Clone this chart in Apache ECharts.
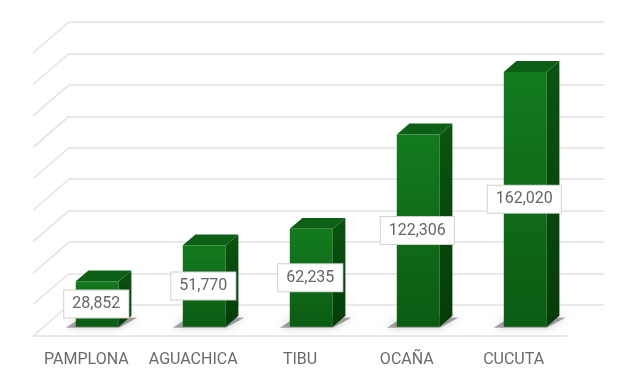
<!DOCTYPE html>
<html>
<head>
<meta charset="utf-8">
<script src="https://cdn.jsdelivr.net/npm/echarts@6/dist/echarts.min.js"></script>
<style>
html,body{margin:0;padding:0;background:#fff;}
#chart{width:640px;height:383px;}
</style>
</head>
<body>
<div id="chart"></div>
<script>
const categories = ['PAMPLONA', 'AGUACHICA', 'TIBU', 'OCAÑA', 'CUCUTA'];
const values = [28852, 51770, 62235, 122306, 162020];
const yTicks = [0, 20000, 40000, 60000, 80000, 100000, 120000, 140000, 160000, 180000];
const yMin = 0, yMax = 180000, yStep = 20000;

const DX = -36, DY = 31;      // depth vector back wall -> front edge (px)
const FF = 0.70, FB = 0.35;   // bar front / back depth fractions
const BW = 43;                // bar front width
const GRID_COLOR = '#e2e2e2';

const chart = echarts.init(document.getElementById('chart'), null, {renderer: 'canvas'});

function fmt(v) { return v.toLocaleString('en-US'); }

const option = {
  animation: false,
  backgroundColor: '#ffffff',
  grid: [
    {left: 69, right: 36, top: 22, bottom: 78},
    {left: 33, right: 73, top: 53, bottom: 47}
  ],
  xAxis: [
    {type: 'category', gridIndex: 0, data: categories, show: false},
    {type: 'category', gridIndex: 1, data: categories,
     axisLine: {show: true, lineStyle: {color: GRID_COLOR, width: 1.5}},
     axisTick: {show: false},
     axisLabel: {interval: 0, hideOverlap: false, color: '#6a6a6a', fontFamily: 'Roboto', fontSize: 16, margin: 16}}
  ],
  yAxis: [
    {type: 'value', gridIndex: 0, min: yMin, max: yMax, interval: yStep,
     axisLine: {show: false}, axisTick: {show: false}, axisLabel: {show: false},
     splitLine: {show: true, lineStyle: {color: GRID_COLOR, width: 1.5}}},
    {type: 'value', gridIndex: 1, min: yMin, max: yMax, interval: yStep, show: false,
     splitLine: {show: false}}
  ],
  series: [
    {
      type: 'custom', xAxisIndex: 0, yAxisIndex: 0, clip: false, silent: true, z: 1,
      data: yTicks.map(v => [0, v]),
      renderItem: function (params, api) {
        const y = api.coord([0, api.value(1)])[1];
        const x0 = params.coordSys.x;
        return {
          type: 'line',
          shape: {x1: x0, y1: y, x2: x0 + DX, y2: y + DY},
          style: {stroke: GRID_COLOR, lineWidth: 1.5}
        };
      }
    },
    {
      type: 'custom', xAxisIndex: 0, yAxisIndex: 0, clip: false, z: 3,
      data: values.map((v, i) => [i, v]),
      renderItem: function (params, api) {
        const i = api.value(0), v = api.value(1);
        const p = api.coord([i, v]);
        const p0 = api.coord([i, 0]);
        const cx = p[0] + DX * FF;
        const top = p[1] + DY * FF;
        const bot = p0[1] + DY * FF;
        const ox = DX * (FB - FF), oy = DY * (FB - FF);
        const l = cx - BW / 2, r = cx + BW / 2;
        return {
          type: 'group',
          children: [
            { // floor shadow
              type: 'polygon',
              shape: {points: [[l - 10, bot + 1], [r, bot + 1], [r + ox + 6, bot + oy + 2], [l + ox - 4, bot + oy]]},
              style: {fill: 'rgba(40,40,40,0.4)', shadowBlur: 8, shadowColor: 'rgba(0,0,0,0.5)'}
            },
            { // side face
              type: 'polygon',
              shape: {points: [[r, top], [r + ox, top + oy], [r + ox, bot + oy], [r, bot]]},
              style: {fill: new echarts.graphic.LinearGradient(0, 0, 0, 1, [
                {offset: 0, color: '#0a5410'}, {offset: 1, color: '#053c09'}])}
            },
            { // top face
              type: 'polygon',
              shape: {points: [[l, top], [l + ox, top + oy], [r + ox, top + oy], [r, top]]},
              style: {fill: '#0c5f14'}
            },
            { // front face
              type: 'rect',
              shape: {x: l, y: top, width: BW, height: bot - top},
              style: {fill: new echarts.graphic.LinearGradient(0, 0, 0, 1, [
                {offset: 0, color: '#137b1e'}, {offset: 1, color: '#0b5c13'}])}
            },
            { // value label
              type: 'text',
              z2: 10,
              x: cx - 1, y: (top + bot) / 2,
              style: {
                text: fmt(v),
                align: 'center', verticalAlign: 'middle',
                fontFamily: 'Roboto', fontSize: 16, lineHeight: 19,
                fill: '#666666',
                backgroundColor: '#ffffff',
                borderColor: '#d0d0d0', borderWidth: 1,
                padding: [4, 8]
              }
            }
          ]
        };
      }
    }
  ]
};
chart.setOption(option);
</script>
</body>
</html>
